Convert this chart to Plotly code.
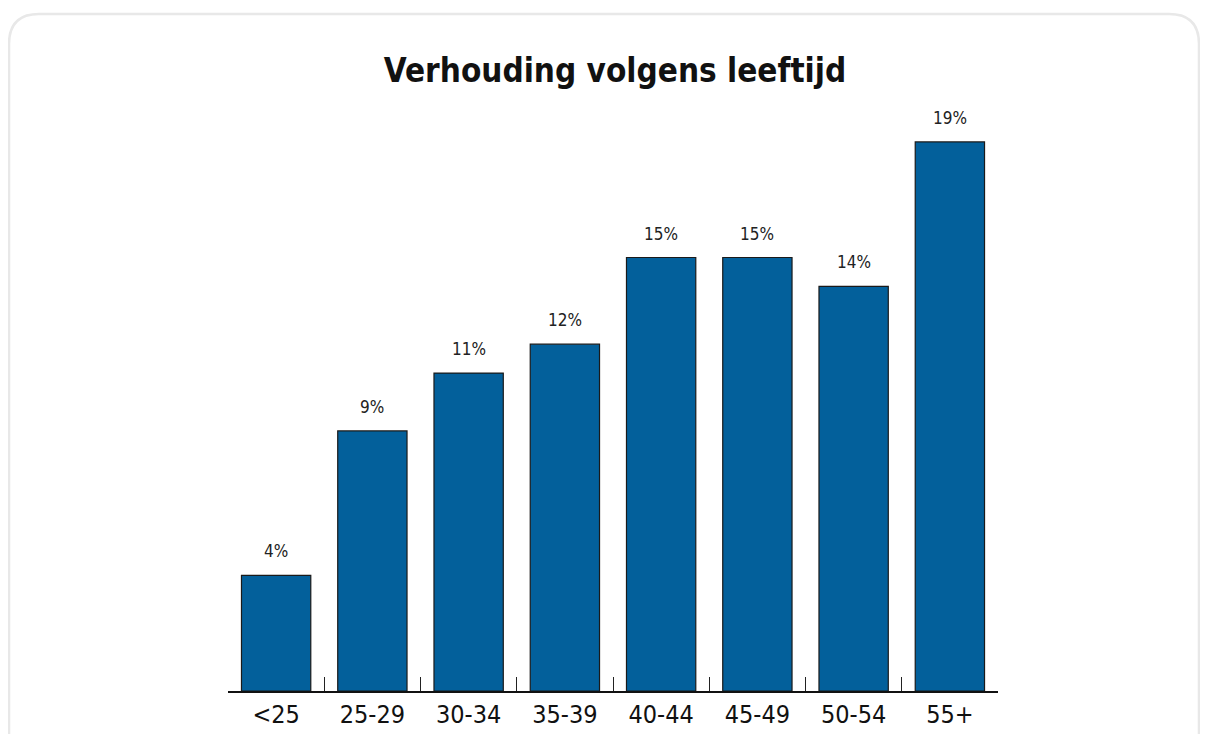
import plotly.graph_objects as go

categories = ["<25", "25-29", "30-34", "35-39", "40-44", "45-49", "50-54", "55+"]
values = [4, 9, 11, 12, 15, 15, 14, 19]
labels = [f"{v}%" for v in values]

FONT = "Liberation Sans Narrow, DejaVu Sans Condensed, sans-serif"

# page body adds an 8px margin, so the figure is 8px smaller than the window
W, H = 1200, 726
L, R, T, B = 220, 210, 105, 43
pw, ph = W - L - R, H - T - B

def px(x):
    return (x - L) / pw

def py(y):
    return (H - B - y) / ph

fig = go.Figure(go.Bar(
    x=categories, y=values,
    marker=dict(color="#03609b", line=dict(color="#1a1a1a", width=1.2)),
    cliponaxis=False, hoverinfo="x+y",
))

for c, v, t in zip(categories, values, labels):
    fig.add_annotation(x=c, y=v, text=t, showarrow=False, yanchor="bottom", yshift=12,
                       font=dict(family=FONT, size=17, color="#222222"))

# rounded card border
x0, x1, y0, y1, r = 1, 1191, 6, 760, 30
path = (f"M {px(x0+r)},{py(y0)} L {px(x1-r)},{py(y0)} Q {px(x1)},{py(y0)} {px(x1)},{py(y0+r)} "
        f"L {px(x1)},{py(y1)} L {px(x0)},{py(y1)} L {px(x0)},{py(y0+r)} Q {px(x0)},{py(y0)} {px(x0+r)},{py(y0)} Z")
fig.add_shape(type="path", path=path, xref="paper", yref="paper",
              line=dict(color="#e8e8e8", width=2.5), layer="below")

fig.update_layout(
    width=W, height=H,
    margin=dict(l=L, r=R, t=T, b=B, autoexpand=False),
    paper_bgcolor="white", plot_bgcolor="white",
    bargap=0.28,
    showlegend=False,
    title=dict(text="<b>Verhouding volgens leeftijd</b>", x=(615 - 8) / W, xanchor="center",
               y=1 - 62 / H, yanchor="middle", yref="container",
               font=dict(family=FONT, size=33, color="#111111")),
    xaxis=dict(showline=True, linecolor="#111111", linewidth=1.5, ticks="inside", tickson="boundaries",
               ticklen=14, tickcolor="#222222", tickwidth=1.2, automargin=False,
               tickfont=dict(family=FONT, size=25, color="#111111"),
               showgrid=False, zeroline=False),
    yaxis=dict(range=[0, 20], visible=False, showgrid=False, zeroline=False, automargin=False),
)

fig.write_html("out.html")
